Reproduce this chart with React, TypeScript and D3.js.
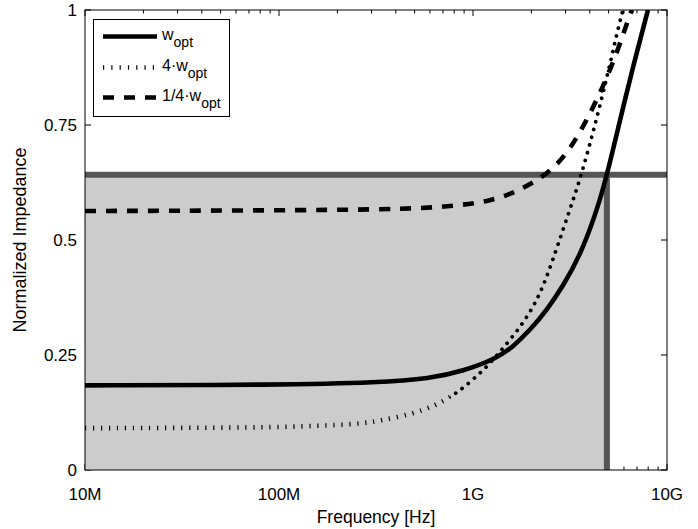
import React from "react";
import * as d3 from "d3";

// Frequencies in Hz, normalized impedance values
const wOptFreq = [1e7, 1e8, 3.32e8, 6.0e8, 8.88e8, 1.33e9, 1.607e9, 1.967e9, 2.405e9, 2.91e9, 3.56e9, 4.36e9, 4.91e9, 5.73e9, 6.68e9, 7.98e9];
const wOptVal = [0.184, 0.185, 0.19, 0.199, 0.215, 0.243, 0.268, 0.304, 0.348, 0.4, 0.465, 0.565, 0.642, 0.761, 0.877, 1.0];

const w4Freq = [1e7, 8.78e7, 1.59e8, 2.55e8, 3.32e8, 4.91e8, 6.37e8, 7.61e8, 8.88e8, 1.087e9, 1.268e9, 1.428e9, 1.706e9, 1.967e9, 2.163e9, 2.35e9, 2.58e9, 2.91e9, 3.28e9, 3.56e9, 4.16e9, 4.91e9, 5.52e9, 5.93e9];
const w4Val = [0.091, 0.092, 0.096, 0.1, 0.107, 0.122, 0.14, 0.158, 0.178, 0.21, 0.239, 0.265, 0.304, 0.343, 0.375, 0.41, 0.457, 0.522, 0.587, 0.632, 0.733, 0.854, 0.95, 1.0];

const wQFreq = [1e7, 3.6e8, 7.35e8, 1.224e9, 1.607e9, 2.014e9, 2.58e9, 3.16e9, 3.87e9, 4.68e9, 5.52e9, 6.22e9, 6.6e9];
const wQVal = [0.563, 0.565, 0.572, 0.584, 0.602, 0.623, 0.653, 0.697, 0.761, 0.833, 0.907, 0.972, 1.0];

const thresholdFreq = 4.9e9;
const thresholdVal = 0.642;

const xTickValues = [1e7, 1e8, 1e9, 1e10];
const xTickLabels = ["10M", "100M", "1G", "10G"];
const yTickValues = [0, 0.25, 0.5, 0.75, 1];
const yTickLabels = ["0", "0.25", "0.5", "0.75", "1"];

const legendLabels = [
  { pre: "w", sub: "opt" },
  { pre: "4·w", sub: "opt" },
  { pre: "1/4·w", sub: "opt" },
];

const FONT = "'Liberation Sans', Arial, Helvetica, sans-serif";

export default function App() {
  const W = 698, H = 529;
  const L = 85, R = 667, T = 10, B = 470;
  const x = d3.scaleLog().domain([1e7, 1e10]).range([L, R]);
  const y = d3.scaleLinear().domain([0, 1]).range([B, T]);

  const line = d3
    .line<[number, number]>()
    .x((d) => x(d[0]))
    .y((d) => y(d[1]))
    .curve(d3.curveBasis);

  const zip = (a: number[], b: number[]) => a.map((v, i) => [v, b[i]] as [number, number]);

  const minorTicks: number[] = [];
  for (let e = 7; e < 10; e++) {
    for (let m = 2; m <= 9; m++) minorTicks.push(m * Math.pow(10, e));
  }

  const solid = { stroke: "#000", strokeWidth: 4.6, fill: "none" };
  const dottedDots = { stroke: "#000", strokeWidth: 3.8, fill: "none", strokeDasharray: "0.01 8", strokeLinecap: "round" as const };
  const dottedTicks = { stroke: "#000", strokeWidth: 4.6, fill: "none", strokeDasharray: "1.2 6.81" };
  const dashed = { stroke: "#000", strokeWidth: 4.6, fill: "none", strokeDasharray: "11 10" };

  const legendStyles = [solid, { ...dottedTicks, strokeDasharray: "1.2 7.1" }, dashed];
  const legendYs = [36.5, 67.5, 97.5];
  const splitX = x(7.6e8);
  const w4Path = line(zip(w4Freq, w4Val)) || "";

  return (
    <svg width={W} height={H} style={{ position: "absolute", left: 0, top: 0, background: "#fff" }} fontFamily={FONT}>
      <defs>
        <clipPath id="plotclip">
          <rect x={L} y={T} width={R - L} height={B - T} />
        </clipPath>
        <clipPath id="clipA">
          <rect x={L} y={T} width={splitX - L} height={B - T} />
        </clipPath>
        <clipPath id="clipB">
          <rect x={splitX} y={T} width={R - splitX} height={B - T} />
        </clipPath>
      </defs>
      <rect x={0} y={0} width={W} height={H} fill="#fff" />
      {/* ticks (under data) */}
      <g stroke="#000" strokeWidth={1}>
        {xTickValues.map((v, i) => (
          <g key={"xt" + i}>
            <line x1={x(v)} x2={x(v)} y1={B} y2={B - 6} />
            <line x1={x(v)} x2={x(v)} y1={T} y2={T + 6} />
          </g>
        ))}
        {minorTicks.map((v, i) => (
          <g key={"xm" + i}>
            <line x1={x(v)} x2={x(v)} y1={B} y2={B - 3.5} />
            <line x1={x(v)} x2={x(v)} y1={T} y2={T + 3.5} />
          </g>
        ))}
        {yTickValues.map((v, i) => (
          <g key={"yt" + i}>
            <line x1={L} x2={L + 6} y1={y(v)} y2={y(v)} />
            <line x1={R} x2={R - 6} y1={y(v)} y2={y(v)} />
          </g>
        ))}
      </g>
      {/* shaded region */}
      <rect
        x={x(1e7)}
        y={y(thresholdVal)}
        width={x(thresholdFreq) - x(1e7)}
        height={y(0) - y(thresholdVal)}
        fill="#cccccc"
      />
      {/* threshold lines */}
      <line x1={L} x2={R} y1={y(thresholdVal)} y2={y(thresholdVal)} stroke="#555" strokeWidth={6} />
      <line x1={x(thresholdFreq)} x2={x(thresholdFreq)} y1={y(0)} y2={y(thresholdVal)} stroke="#555" strokeWidth={6} />
      {/* curves */}
      <g clipPath="url(#plotclip)">
        <path d={line(zip(wQFreq, wQVal)) || ""} {...dashed} />
        <g clipPath="url(#clipA)">
          <path d={w4Path} {...dottedTicks} />
        </g>
        <g clipPath="url(#clipB)">
          <path d={w4Path} {...dottedDots} />
        </g>
        <path d={line(zip(wOptFreq, wOptVal)) || ""} {...solid} />
      </g>
      {/* frame */}
      <rect x={L} y={T} width={R - L} height={B - T} fill="none" stroke="#000" strokeWidth={1} />
      {/* tick labels */}
      <g fontSize={17} fill="#000">
        {xTickValues.map((v, i) => (
          <text key={"xl" + i} x={x(v)} y={500} textAnchor="middle">
            {xTickLabels[i]}
          </text>
        ))}
        {yTickValues.map((v, i) => (
          <text key={"yl" + i} x={77} y={y(v)} dy="0.35em" textAnchor="end">
            {yTickLabels[i]}
          </text>
        ))}
      </g>
      {/* axis labels */}
      <text x={(L + R) / 2} y={523} textAnchor="middle" fontSize={17.5}>
        Frequency [Hz]
      </text>
      <text transform={`translate(26, 240) rotate(-90)`} textAnchor="middle" fontSize={18}>
        Normalized Impedance
      </text>
      {/* legend */}
      <g>
        <rect x={93.5} y={19.5} width={136} height={97} fill="#fff" stroke="#000" strokeWidth={1} />
        {legendLabels.map((lab, i) => (
          <g key={"lg" + i}>
            <line x1={103} x2={157} y1={legendYs[i]} y2={legendYs[i]} {...legendStyles[i]} />
            <text x={162} y={legendYs[i] + 3} fontSize={16}>
              {lab.pre}
              <tspan fontSize={14} dy={7}>
                {lab.sub}
              </tspan>
            </text>
          </g>
        ))}
      </g>
    </svg>
  );
}
